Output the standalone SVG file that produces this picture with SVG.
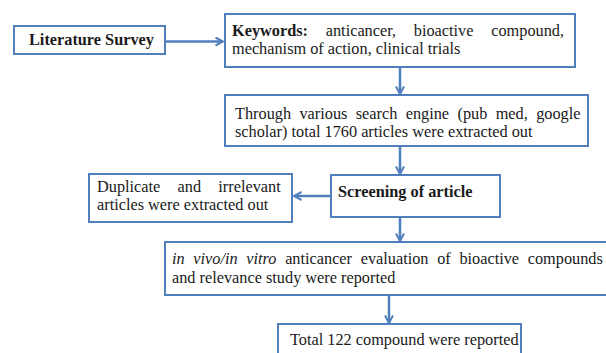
<svg xmlns="http://www.w3.org/2000/svg" width="606" height="353" viewBox="0 0 606 353">
<style>
.box{fill:#fff;stroke:#4f7fbc;stroke-width:2}
text{font-family:'Liberation Serif','Times New Roman',serif;font-size:16.3px;fill:#1a1a1a}
.b{font-weight:bold}
.i{font-style:italic}
.c{fill:none;stroke:#4f7fbc;stroke-width:2.5}
</style>
<defs>
<marker id="ah" viewBox="0 0 10 10" refX="8.5" refY="5" markerWidth="4" markerHeight="4" orient="auto" markerUnits="strokeWidth">
<path d="M1,1 L8.5,5 L1,9" fill="none" stroke="#4f7fbc" stroke-width="2"/>
</marker>
</defs>
<rect width="606" height="353" fill="#fff"/>
<g id="connectors">
<line class="c" x1="165" y1="41.5" x2="223" y2="41.5" marker-end="url(#ah)"/>
<line class="c" x1="400" y1="67" x2="400" y2="94" marker-end="url(#ah)"/>
<line class="c" x1="400" y1="146" x2="400" y2="174" marker-end="url(#ah)"/>
<line class="c" x1="331" y1="196" x2="294" y2="196" marker-end="url(#ah)"/>
<line class="c" x1="400" y1="217" x2="400" y2="241" marker-end="url(#ah)"/>
<line class="c" x1="389" y1="295" x2="389" y2="323" marker-end="url(#ah)"/>
</g>
<g id="literature-survey">
<rect class="box" x="14" y="26" width="151" height="28"/>
<text class="b" x="29" y="45">Literature Survey</text>
</g>
<g id="keywords">
<rect class="box" x="225" y="14" width="350" height="53"/>
<text x="232" y="36" word-spacing="13.7"><tspan class="b">Keywords:</tspan> anticancer, bioactive compound,</text>
<text x="232" y="54">mechanism of action, clinical trials</text>
</g>
<g id="search">
<rect class="box" x="225" y="95" width="363" height="51"/>
<text x="235" y="119" word-spacing="4.3">Through various search engine (pub med, google</text>
<text x="235" y="137">scholar) total 1760 articles were extracted out</text>
</g>
<g id="screening">
<rect class="box" x="331" y="175" width="169" height="42"/>
<text class="b" x="338" y="197">Screening of article</text>
</g>
<g id="duplicate">
<rect class="box" x="89" y="174" width="203" height="48"/>
<text x="97" y="192" word-spacing="13.2">Duplicate and irrelevant</text>
<text x="97" y="210">articles were extracted out</text>
</g>
<g id="evaluation">
<rect class="box" x="165" y="242" width="448" height="53"/>
<text x="172" y="264" word-spacing="4.6"><tspan class="i">in vivo/in vitro</tspan> anticancer evaluation of bioactive compounds</text>
<text x="172" y="283">and relevance study were reported</text>
</g>
<g id="total">
<rect class="box" x="278" y="324" width="243" height="40"/>
<text x="290" y="345">Total 122 compound were reported</text>
</g>
</svg>
